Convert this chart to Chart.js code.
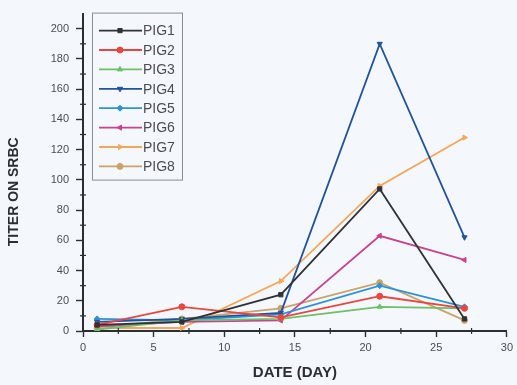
<!DOCTYPE html>
<html>
<head>
<meta charset="utf-8">
<script src="https://cdn.jsdelivr.net/npm/chart.js@4/dist/chart.umd.min.js"></script>
<style>
  html, body { margin: 0; padding: 0; background: #f4f7fb; }
  #wrap { width: 517px; height: 385px; }
</style>
</head>
<body>
<div id="wrap"><canvas id="titerChart" width="517" height="385"></canvas></div>
<script>
const DAYS = [1, 7, 14, 21, 27];
const PIG1 = [4, 6, 24, 94, 8];
const PIG2 = [4, 16, 9, 23, 15];
const PIG3 = [1, 7, 8, 16, 15];
const PIG4 = [6, 8, 12, 190, 62];
const PIG5 = [8, 7, 11, 30, 16];
const PIG6 = [3, 6, 7, 63, 47];
const PIG7 = [2, 2, 33, 96, 128];
const PIG8 = [2, 8, 15, 32, 7];

const NAMES = ["PIG1", "PIG2", "PIG3", "PIG4", "PIG5", "PIG6", "PIG7", "PIG8"];
const SERIES = [PIG1, PIG2, PIG3, PIG4, PIG5, PIG6, PIG7, PIG8];
const COLORS = ["#2f3337", "#e8463f", "#6cc06a", "#23529e", "#2d93d6", "#c8438f", "#f5a65b", "#c9a36a"];
const MARKERS = [
    { style: "rect", rot: 0 },
    { style: "circle", rot: 0 },
    { style: "triangle", rot: 0 },
    { style: "triangle", rot: 180 },
    { style: "rectRot", rot: 0 },
    { style: "triangle", rot: -90 },
    { style: "triangle", rot: 90 },
    { style: "circle", rot: 0 }
];

const X_TICKS = [0, 5, 10, 15, 20, 25, 30];
const Y_TICKS = [0, 20, 40, 60, 80, 100, 120, 140, 160, 180, 200];

const AXIS_COLOR = "#2b2e33";
const TEXT_COLOR = "#4a4d52";
const FONT = "'Liberation Sans', Arial, sans-serif";

// minor ticks halfway between the labelled ones
const minorTicks = {
    id: "minorTicks",
    afterDraw(chart) {
        const ctx = chart.ctx;
        const xs = chart.scales.x, ys = chart.scales.y;
        const area = chart.chartArea;
        ctx.save();
        ctx.strokeStyle = AXIS_COLOR;
        ctx.lineWidth = 1.2;
        for (let i = 0; i < X_TICKS.length - 1; i++) {
            const px = xs.getPixelForValue((X_TICKS[i] + X_TICKS[i + 1]) / 2);
            ctx.beginPath();
            ctx.moveTo(px, area.bottom - 3);
            ctx.lineTo(px, area.bottom + 3);
            ctx.stroke();
        }
        for (let i = 0; i < Y_TICKS.length - 1; i++) {
            const py = ys.getPixelForValue((Y_TICKS[i] + Y_TICKS[i + 1]) / 2);
            ctx.beginPath();
            ctx.moveTo(area.left - 3, py);
            ctx.lineTo(area.left + 3, py);
            ctx.stroke();
        }
        ctx.restore();
    }
};

// boxed legend drawn inside the plot, top left
const insideLegend = {
    id: "insideLegend",
    afterDraw(chart) {
        const ctx = chart.ctx;
        const area = chart.chartArea;
        const boxX = area.left + 9, boxY = area.top - 1;
        const boxW = 90, boxH = 167;
        ctx.save();
        ctx.strokeStyle = "#8a8d92";
        ctx.lineWidth = 1;
        ctx.strokeRect(boxX + 0.5, boxY + 0.5, boxW, boxH);
        ctx.font = "14px " + FONT;
        ctx.textBaseline = "middle";
        chart.data.datasets.forEach((ds, i) => {
            const cy = boxY + 18 + i * 19.4;
            ctx.strokeStyle = ds.borderColor;
            ctx.lineWidth = 1.8;
            ctx.beginPath();
            ctx.moveTo(boxX + 7, cy);
            ctx.lineTo(boxX + 50, cy);
            ctx.stroke();
            ctx.fillStyle = ds.borderColor;
            ctx.lineWidth = 1;
            Chart.helpers.drawPoint(ctx, {
                pointStyle: ds.pointStyle,
                rotation: ds.pointRotation,
                radius: 3,
                borderWidth: 1
            }, boxX + 28, cy);
            ctx.fillStyle = "#4a4d52";
            ctx.fillText(ds.label, boxX + 51, cy + 1);
        });
        ctx.restore();
    }
};

const datasets = NAMES.map((name, i) => ({
    label: name,
    data: DAYS.map((d, j) => ({ x: d, y: SERIES[i][j] })),
    borderColor: COLORS[i],
    backgroundColor: COLORS[i],
    borderWidth: 1.8,
    pointStyle: MARKERS[i].style,
    pointRotation: MARKERS[i].rot,
    pointRadius: 3,
    pointBorderWidth: 1,
    tension: 0
}));

new Chart(document.getElementById("titerChart"), {
    type: "line",
    data: { datasets: datasets },
    plugins: [minorTicks, insideLegend],
    options: {
        responsive: false,
        animation: false,
        layout: { padding: { left: 0, top: 10, right: 10, bottom: 0 } },
        plugins: {
            legend: { display: false },
            tooltip: { enabled: false }
        },
        scales: {
            x: {
                type: "linear",
                min: 0,
                max: 30,
                afterBuildTicks: (scale) => { scale.ticks = X_TICKS.map(v => ({ value: v })); },
                afterFit: (scale) => { scale.height = 54; },
                grid: { drawOnChartArea: false, drawTicks: true, tickLength: 6, color: AXIS_COLOR, tickWidth: 1.4 },
                border: { display: true, color: AXIS_COLOR, width: 2 },
                ticks: { color: TEXT_COLOR, font: { family: FONT, size: 11 }, padding: 4, maxRotation: 0 },
                title: {
                    display: true,
                    text: "DATE (DAY)",
                    color: "#2b2e33",
                    font: { family: FONT, size: 15, weight: "bold" },
                    padding: { top: 0, bottom: 3 }
                }
            },
            y: {
                min: 0,
                max: 210,
                afterBuildTicks: (scale) => { scale.ticks = Y_TICKS.map(v => ({ value: v })); },
                afterFit: (scale) => { scale.width = 83; },
                grid: { drawOnChartArea: false, drawTicks: true, tickLength: 7, color: AXIS_COLOR, tickWidth: 1.4 },
                border: { display: true, color: AXIS_COLOR, width: 2 },
                ticks: { color: TEXT_COLOR, font: { family: FONT, size: 11 }, padding: 7 },
                title: {
                    display: true,
                    text: "TITER ON SRBC          ",
                    color: "#2b2e33",
                    font: { family: FONT, size: 14, weight: "bold" },
                    padding: { top: 6, bottom: 0 }
                }
            }
        }
    }
});
</script>
</body>
</html>
